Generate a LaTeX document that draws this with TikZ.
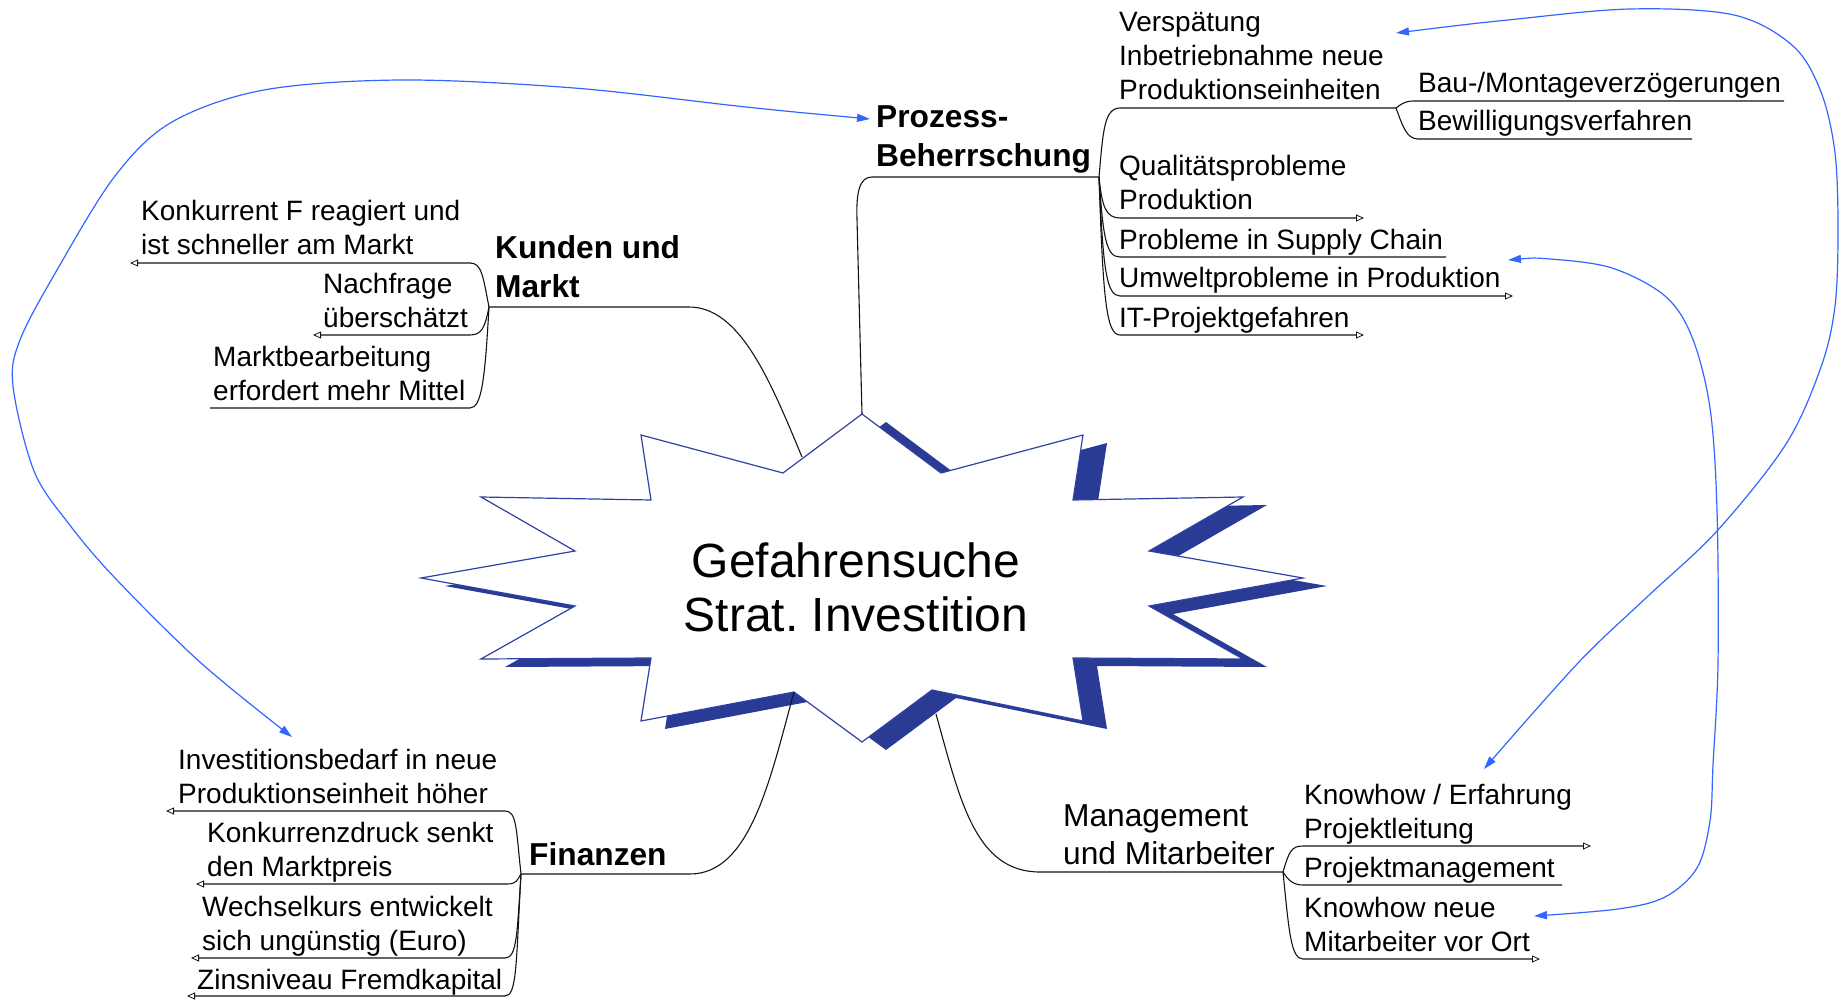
\documentclass[tikz,border=0pt]{standalone}
\usepackage{fontspec}
\setmainfont{Liberation Sans}
\usetikzlibrary{arrows.meta}
\definecolor{starline}{RGB}{46,66,165}
\definecolor{starshadow}{RGB}{42,59,150}
\definecolor{xblue}{RGB}{51,102,255}
\definecolor{linecol}{RGB}{20,20,20}
\frenchspacing
\begin{document}
\begin{tikzpicture}[x=1pt,y=-1pt,
  link/.style={draw=linecol, line width=1.1pt},
  tipo/.style={-{Triangle[open,length=8pt,width=7pt,line width=0.8pt]}},
  xref/.style={draw=xblue, line width=1.2pt,
    {Triangle[length=13pt,width=8pt]}-{Triangle[length=13pt,width=8pt]}},
  leaf/.style={font=\fontsize{28}{34}\selectfont, align=left, inner sep=0pt, anchor=base west},
  branch/.style={font=\fontsize{31.7}{39}\selectfont\bfseries, align=left, inner sep=0pt, anchor=base west},
  branchplain/.style={font=\fontsize{31.7}{38}\selectfont, align=left, inner sep=0pt, anchor=base west},
  core/.style={font=\fontsize{48}{54}\selectfont, align=center, inner sep=0pt}]
\useasboundingbox (0,0) rectangle (1839,1000);

% burst: shadow first, then the white star with its outline
\begin{scope}[shift={(886,586)}]
  \fill[starshadow] (0,-164) -- (79,-105) -- (221,-143) -- (211,-78) -- (381,-81) -- (287,-27)
    -- (441,0) -- (287,28) -- (381,81) -- (211,80) -- (221,143) -- (70,112) -- (0,164)
    -- (-68,114) -- (-221,143) -- (-211,80) -- (-381,81) -- (-287,28) -- (-441,0)
    -- (-287,-27) -- (-381,-81) -- (-211,-78) -- (-221,-143) -- (-79,-105) -- cycle;
\end{scope}
\begin{scope}[shift={(862,578)}]
  \filldraw[fill=white, draw=starline, line width=1.2pt, line join=miter]
    (0,-164) -- (79,-105) -- (221,-143) -- (211,-78) -- (381,-81) -- (287,-27)
    -- (441,0) -- (287,28) -- (381,81) -- (211,80) -- (221,143) -- (70,112) -- (0,164)
    -- (-68,114) -- (-221,143) -- (-211,80) -- (-381,81) -- (-287,28) -- (-441,0)
    -- (-287,-27) -- (-381,-81) -- (-211,-78) -- (-221,-143) -- (-79,-105) -- cycle;
\end{scope}
\node[core] (title) at (856,587) {Gefahrensuche\\Strat. Investition};

% attachment points on the burst
\coordinate (sTop) at (862,414);
\coordinate (sKd) at (802,457);
\coordinate (sFin) at (794,692);
\coordinate (sMg) at (936,714);

% ---------------- Prozess-Beherrschung ----------------
\node[branch] (pz) at (876,167) {Prozess-\\Beherrschung};
\node[leaf] (ver) at (1119,100) {Verspätung\\Inbetriebnahme neue\\Produktionseinheiten};
\node[leaf] (bau) at (1418,93) {Bau-/Montageverzögerungen};
\node[leaf] (bew) at (1418,131) {Bewilligungsverfahren};
\node[leaf] (qual) at (1119,210) {Qualitätsprobleme\\Produktion};
\node[leaf] (sup) at (1119,250) {Probleme in Supply Chain};
\node[leaf] (umw) at (1119,288) {Umweltprobleme in Produktion};
\node[leaf] (itp) at (1119,327) {IT-Projektgefahren};

\coordinate (fPz) at (1099,177);
\coordinate (fVer) at (1396,108);
\coordinate (eBau) at (1784,101);
\coordinate (eBew) at (1692,139);
\coordinate (eQual) at (1364,218);
\coordinate (eSup) at (1446,257);
\coordinate (eUmw) at (1513,296);
\coordinate (eIt) at (1364,335);

\draw[link] (sTop) -- ++(-5,-195) .. controls +(-1,-28) and +(-12,0) .. (872,177) -- (fPz);
\draw[link] (fPz) .. controls +(4,-45) and +(-16,0) .. (1120,108) -- (fVer);
\draw[link] (fVer) .. controls +(8,-6) and +(-10,0) .. (1416,101) -- (eBau);
\draw[link] (fVer) .. controls +(6,16) and +(-12,0) .. (1418,139) -- (eBew);
\draw[link,tipo] (fPz) .. controls +(3,30) and +(-14,0) .. (1120,218) -- (eQual);
\draw[link] (fPz) .. controls +(4,60) and +(-14,0) .. (1120,257) -- (eSup);
\draw[link,tipo] (fPz) .. controls +(4,90) and +(-14,0) .. (1120,296) -- (eUmw);
\draw[link,tipo] (fPz) .. controls +(4,120) and +(-14,0) .. (1120,335) -- (eIt);

% ---------------- Kunden und Markt ----------------
\node[branch] (kd) at (495,298) {Kunden und\\Markt};
\node[leaf] (konk) at (141,255) {Konkurrent F reagiert und\\ist schneller am Markt};
\node[leaf] (nach) at (323,327) {Nachfrage\\überschätzt};
\node[leaf] (mkt) at (213,400) {Marktbearbeitung\\erfordert mehr Mittel};

\coordinate (fKd) at (489,307);
\coordinate (eKonk) at (130,263);
\coordinate (eNach) at (313,335);
\coordinate (eMkt) at (210,408);

\draw[link] (sKd) .. controls (770,380) and (740,307) .. (689,307) -- (fKd);
\draw[link,tipo] (fKd) .. controls +(-6,-30) and +(12,0) .. (470,263) -- (eKonk);
\draw[link,tipo] (fKd) .. controls +(-4,20) and +(12,0) .. (470,335) -- (eNach);
\draw[link] (fKd) .. controls +(-4,70) and +(12,0) .. (470,408) -- (eMkt);

% ---------------- Finanzen ----------------
\node[branch] (fin) at (529,865) {Finanzen};
\node[leaf] (inv) at (178,803) {Investitionsbedarf in neue\\Produktionseinheit höher};
\node[leaf] (kdr) at (207,876) {Konkurrenzdruck senkt\\den Marktpreis};
\node[leaf] (wech) at (202,950) {Wechselkurs entwickelt\\sich ungünstig (Euro)};
\node[leaf] (zins) at (197,989) {Zinsniveau Fremdkapital};

\coordinate (fFin) at (521,874);
\coordinate (eInv) at (166,811);
\coordinate (eKdr) at (196,884);
\coordinate (eWech) at (191,958);
\coordinate (eZins) at (187,996);

\draw[link] (sFin) .. controls (770,780) and (750,874) .. (690,874) -- (fFin);
\draw[link,tipo] (fFin) .. controls +(-5,-45) and +(12,0) .. (505,811) -- (eInv);
\draw[link,tipo] (fFin) .. controls +(-4,6) and +(10,0) .. (507,884) -- (eKdr);
\draw[link,tipo] (fFin) .. controls +(-4,60) and +(12,0) .. (505,958) -- (eWech);
\draw[link,tipo] (fFin) .. controls +(-5,90) and +(12,0) .. (505,996) -- (eZins);

% ---------------- Management und Mitarbeiter ----------------
\node[branchplain] (mg) at (1063,864) {Management\\und Mitarbeiter};
\node[leaf] (kne) at (1304,838) {Knowhow / Erfahrung\\Projektleitung};
\node[leaf] (pm) at (1304,877) {Projektmanagement};
\node[leaf] (kmn) at (1304,951) {Knowhow neue\\Mitarbeiter vor Ort};

\coordinate (fMg) at (1283,872);
\coordinate (eKne) at (1591,846);
\coordinate (ePm) at (1562,885);
\coordinate (eKmn) at (1540,959);

\draw[link] (sMg) .. controls (960,800) and (975,872) .. (1040,872) -- (fMg);
\draw[link,tipo] (fMg) .. controls +(6,-20) and +(-12,0) .. (1303,846) -- (eKne);
\draw[link] (fMg) .. controls +(5,8) and +(-10,0) .. (1303,885) -- (ePm);
\draw[link,tipo] (fMg) .. controls +(6,60) and +(-12,0) .. (1303,959) -- (eKmn);

% ---------------- cross references ----------------
\coordinate (aPz) at (870,119);
\coordinate (aInv) at (292,737);
\coordinate (aVer) at (1396,33);
\coordinate (aKne) at (1484,769);
\coordinate (aSup) at (1508,260);
\coordinate (aKmn) at (1534,916);

\draw[xref] plot[smooth, tension=0.55] coordinates {(aPz) (746,107) (574,88) (402,80)
  (264,90) (172,122) (115,176) (57,270) (20,340) (13,386) (34,471) (69,524) (115,578)
  (201,663) (aInv)};
\draw[xref] plot[smooth, tension=0.55] coordinates {(aVer) (1508,20) (1630,9) (1734,15)
  (1793,46) (1821,92) (1835,153) (1838,230) (1835,306) (1821,367) (1786,444) (1717,531)
  (1647,597) (1578,663) (aKne)};
\draw[xref] plot[smooth, tension=0.55] coordinates {(aSup) (1550,259) (1612,268) (1665,296)
  (1692,337) (1710,408) (1717,510) (1718,663) (1713,765) (1710,821) (1697,868)
  (1665,897) (1618,909) (aKmn)};
\end{tikzpicture}
\end{document}
